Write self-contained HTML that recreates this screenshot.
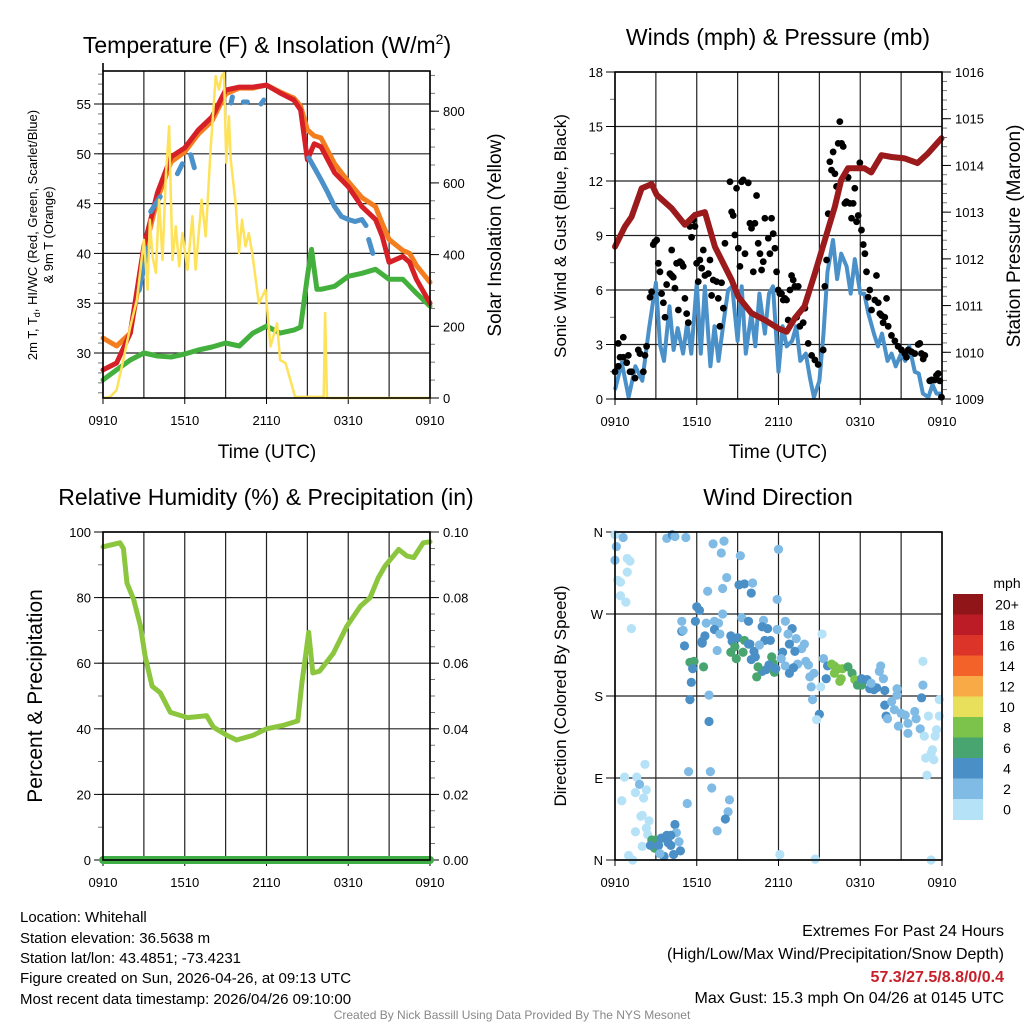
<!DOCTYPE html>
<html><head><meta charset="utf-8">
<style>
html,body{margin:0;padding:0;background:#fff;}
svg{display:block;font-family:"Liberation Sans",Arial,sans-serif;}
</style></head>
<body>
<svg id="fig" width="1024" height="1024" viewBox="0 0 1024 1024" xmlns="http://www.w3.org/2000/svg">
<rect width="1024" height="1024" fill="#fff"/>
<g id="p1"></g>
<g id="p2"></g>
<g id="p3"></g>
<g id="p4"></g>

<text x="267" y="53" font-size="23" text-anchor="middle">Temperature (F) &amp; Insolation (W/m<tspan dy="-9" font-size="14">2</tspan><tspan dy="9">)</tspan></text>
<text x="778" y="45" font-size="23" text-anchor="middle">Winds (mph) &amp; Pressure (mb)</text>
<text x="266" y="505" font-size="23" text-anchor="middle">Relative Humidity (%) &amp; Precipitation (in)</text>
<text x="778" y="505" font-size="23" text-anchor="middle">Wind Direction</text>

<text transform="translate(37,235) rotate(-90)" font-size="13" text-anchor="middle">2m T, T<tspan dy="3" font-size="9">d</tspan><tspan dy="-3">, HI/WC (Red, Green, Scarlet/Blue)</tspan></text>
<text transform="translate(53,235) rotate(-90)" font-size="13" text-anchor="middle">&amp; 9m T (Orange)</text>
<text transform="translate(501,235) rotate(-90)" font-size="19" text-anchor="middle">Solar Insolation (Yellow)</text>
<text transform="translate(566,236) rotate(-90)" font-size="17" text-anchor="middle">Sonic Wind &amp; Gust (Blue, Black)</text>
<text transform="translate(1020,236) rotate(-90)" font-size="19" text-anchor="middle">Station Pressure (Maroon)</text>
<text transform="translate(42,696) rotate(-90)" font-size="21" text-anchor="middle">Percent &amp; Precipitation</text>
<text transform="translate(566,696) rotate(-90)" font-size="17" text-anchor="middle">Direction (Colored By Speed)</text>
<text x="267" y="458" font-size="19" text-anchor="middle">Time (UTC)</text>
<text x="778" y="458" font-size="19" text-anchor="middle">Time (UTC)</text>

<g font-size="15">
<text x="20" y="922">Location: Whitehall</text>
<text x="20" y="943">Station elevation: 36.5638 m</text>
<text x="20" y="963">Station lat/lon: 43.4851; -73.4231</text>
<text x="20" y="983">Figure created on Sun, 2026-04-26, at 09:13 UTC</text>
<text x="20" y="1004">Most recent data timestamp: 2026/04/26 09:10:00</text>
</g>
<g font-size="15" text-anchor="end">
<text x="1004" y="936" font-size="16">Extremes For Past 24 Hours</text>
<text x="1004" y="959" font-size="16">(High/Low/Max Wind/Precipitation/Snow Depth)</text>
<text x="1004" y="982" font-size="16" font-weight="bold" fill="#c8202a">57.3/27.5/8.8/0/0.4</text>
<text x="1004" y="1003" font-size="16">Max Gust: 15.3 mph On 04/26 at 0145 UTC</text>
</g>
<text x="512" y="1019" font-size="12" fill="#888" text-anchor="middle">Created By Nick Bassill Using Data Provided By The NYS Mesonet</text>
</svg>
<script>
// ---------- data ----------
const timeTickLabels = ["0910","1510","2110","0310","0910"];
const tempTicks = [30,35,40,45,50,55];
const solarTicks = [0,200,400,600,800];
const windTicks = [0,3,6,9,12,15,18];
const pressTicks = [1009,1010,1011,1012,1013,1014,1015,1016];
const rhTicks = [0,20,40,60,80,100];
const precipTickLabels = ["0.00","0.02","0.04","0.06","0.08","0.10"];
const dirTickLabels = ["N","E","S","W","N"];
const speedBins = ["0","2","4","6","8","10","12","14","16","18","20+"];
const speedColors = ["#b5e2f7","#7fbbe5","#4a8fc6","#48a56f","#7bc34a","#e8e05a","#f7aa45","#f26229","#dd342a","#bb1c25","#8f1518"];

const tempHours = [0,1,2,3,4,5,6,7,8,9,10,11,12,13,14,14.5,15,15.5,16,17,18,19,20,20.5,21,22,22.5,23,24];
const redTemp = [28.3,29.0,32.0,40.7,46.1,49.7,50.6,52.4,53.7,56.4,56.7,56.7,56.9,56.1,55.4,54.4,49.4,51.0,50.7,48.1,46.7,44.7,43.4,41.7,39.1,39.7,39.1,37.4,35.0];
const orangeTemp = [31.5,30.7,32.0,40.0,45.5,49.2,50.2,52.0,53.3,56.0,56.6,56.6,56.9,56.2,55.6,54.8,52.4,51.8,51.6,49.0,47.2,45.6,44.7,43.0,41.4,40.3,40.0,38.8,37.1];
const blueHours = [2.66,3.3,null,3.5,4.2,null,5.46,5.83,null,6.44,6.7,null,9.4,9.5,null,10.3,10.6,null,11.6,11.8,null,15.1,15.6,16,16.5,17,17.5,18,18.5,19,19.3,null,19.5,19.8];
const blueTemp = [36.3,40.6,null,44.2,45.7,null,48.0,49.0,null,49.9,48.6,null,55.1,55.7,null,55.2,55.2,null,55.0,55.4,null,49.6,48.4,47.4,46.1,44.7,43.7,43.4,43.2,43.4,42.8,null,41.4,40.0];
const greenHours = [0,1,2,3,4,5,6,7,8,9,10,11,12,13,14,14.5,15,15.3,15.7,16,17,18,19,20,21,22,23,24];
const dewpoint = [27.3,28.3,29.3,30.0,29.7,29.6,29.9,30.3,30.6,31.0,30.7,32.0,32.7,32.0,32.3,32.6,37.7,40.4,36.4,36.4,36.7,37.7,38.0,38.4,37.4,37.4,36.0,34.7];
const solarHours = [0,0.49,1.0,1.49,2.0,2.49,3.0,3.27,3.44,3.63,3.88,4.12,4.37,4.61,4.85,5.1,5.34,5.59,5.83,6.2,6.56,6.8,7.24,7.54,7.9,8.27,8.51,8.71,8.88,9.05,9.24,9.37,9.73,9.98,10.2,10.46,10.7,10.95,11.44,11.93,12.29,12.78,13.0,13.4,14.1,16.2,16.3,16.44,24];
const solarValues = [0,2,22,106,199,274,441,302,497,395,349,553,385,618,758,385,479,367,460,358,507,358,553,451,693,898,860,898,907,656,786,665,544,404,497,423,460,404,264,302,144,208,106,97,3,3,237,0,0];

const pressHours = [0,0.73,1.22,1.96,2.69,3.06,4.16,5.13,5.87,6.6,7.33,8.56,9.05,10.0,11.0,12.0,12.6,13.2,13.9,14.67,15.4,16.14,16.6,17.1,18.3,18.8,19.56,20.3,21.27,22.2,22.98,23.96];
const pressure = [1012.26,1012.69,1012.9,1013.51,1013.6,1013.37,1013.08,1012.73,1012.94,1013.0,1012.26,1011.55,1011.19,1010.84,1010.69,1010.51,1010.44,1010.73,1010.98,1011.69,1012.4,1013.12,1013.69,1013.94,1013.94,1013.85,1014.22,1014.18,1014.15,1014.05,1014.26,1014.58];
const windHours = [0,0.5,1,1.5,2,2.5,3,3.3,3.6,4,4.3,4.6,5,5.3,5.6,6,6.3,6.6,7,7.3,7.6,8,8.3,8.6,9,9.3,9.6,10,10.3,10.6,11,11.3,11.6,12,12.3,12.6,13,13.3,13.6,14,14.3,14.6,15,15.3,15.6,16,16.3,16.6,17,17.3,17.6,18,18.3,18.6,19,19.3,19.6,20,20.3,20.6,21,21.3,21.6,22,22.3,22.6,23,23.3,23.6,24];
const windSpeed = [0.5,2.0,0.1,1.8,1.0,3.9,6.4,3.0,2.1,5.1,2.7,3.9,2.5,4.2,2.5,6.4,2.5,6.2,1.8,4.0,2.1,4.4,6.0,6.2,3.2,6.2,2.5,4.7,2.9,5.8,3.6,5.8,6.2,1.5,4.0,2.9,3.2,4.0,2.1,2.5,1.2,0.1,1.0,3.6,7.0,8.75,6.6,8.0,7.3,5.8,7.7,5.8,5.8,4.7,3.6,2.9,3.6,2.1,2.5,1.8,2.5,2.1,2.9,1.5,1.4,0.3,0.1,0.8,0.3,0.3];
const gustPoints = [[0,1.5],[0.24,1.8],[0.24,3.06],[0.61,3.4],[0.37,2.3],[0.61,2.3],[0.98,2.4],[0.86,2.0],[1.1,1.5],[1.22,1.5],[1.47,1.15],[1.71,2.7],[1.83,2.5],[2.2,2.4],[2.08,1.5],[2.32,2.9],[2.57,5.6],[2.69,5.9],[2.81,8.5],[2.93,8.66],[3.06,8.75],[3.18,7.47],[3.3,7.0],[3.42,5.8],[3.55,5.3],[3.67,4.5],[3.79,6.3],[4.03,6.9],[4.16,8.2],[4.16,6.8],[4.28,6.7],[4.4,6.1],[4.52,7.47],[4.65,4.9],[4.77,7.56],[4.89,7.47],[5.01,7.3],[5.13,5.54],[5.26,4.7],[5.38,4.2],[5.5,9.5],[5.62,8.9],[5.75,9.85],[5.87,9.5],[5.99,7.47],[6.11,6.46],[6.23,7.65],[6.36,7.2],[6.48,8.2],[6.6,6.8],[6.85,6.9],[6.97,7.65],[7.09,5.7],[7.21,6.55],[7.46,6.46],[7.58,5.54],[7.7,4.0],[7.82,6.4],[7.95,5.0],[8.07,8.57],[8.44,11.96],[8.56,10.3],[8.68,10.1],[8.8,9.03],[8.92,11.6],[9.05,8.3],[9.17,7.3],[9.29,11.96],[9.41,12.06],[9.54,8.0],[9.78,11.9],[9.9,9.67],[10.02,9.4],[10.15,7.0],[10.27,9.67],[10.39,11.2],[10.51,8.57],[10.64,8.0],[10.76,7.1],[10.88,7.56],[11.0,9.95],[11.25,8.85],[11.37,8.0],[11.49,9.95],[11.61,9.1],[11.74,8.3],[11.86,7.0],[11.98,6.0],[12.1,5.8],[12.22,5.8],[12.35,5.45],[12.47,5.54],[12.59,5.45],[12.71,4.35],[12.84,6.0],[12.96,6.8],[13.08,6.55],[13.2,6.2],[13.33,4.5],[13.45,6.2],[13.57,4.0],[13.81,4.2],[13.94,5.0],[14.18,3.06],[14.43,2.4],[14.67,2.15],[14.91,1.9],[15.28,2.7],[15.4,6.2],[15.53,7.65],[15.65,10.2],[15.77,13.06],[15.89,12.6],[16.01,13.6],[16.14,12.4],[16.26,11.7],[16.38,14.07],[16.5,15.27],[16.63,14.07],[16.75,13.9],[16.87,10.77],[16.99,10.86],[17.11,12.2],[17.24,10.77],[17.36,9.95],[17.48,10.77],[17.6,11.6],[17.73,9.76],[17.85,10.1],[17.97,13.0],[18.09,9.3],[18.22,8.5],[18.34,8.0],[18.46,7.0],[18.58,5.6],[18.7,6.0],[18.83,4.9],[19.07,5.45],[19.19,6.8],[19.32,5.3],[19.44,4.7],[19.56,4.6],[19.68,4.2],[19.8,4.5],[19.93,5.54],[20.05,4.0],[20.29,3.5],[20.54,3.2],[20.78,2.9],[21.03,2.7],[21.27,2.5],[21.39,2.3],[21.52,2.7],[21.76,2.6],[22.0,2.5],[22.25,3.0],[22.37,3.06],[22.49,2.5],[22.62,2.2],[22.74,2.4],[23.1,1.0],[23.23,1.05],[23.47,1.05],[23.59,1.3],[23.72,1.4],[23.84,1.0],[23.96,0.1]];

const rhHours = [0,1.25,1.5,1.76,2.25,2.75,3.1,3.6,4.2,4.95,6.2,7.6,8.1,9.1,9.8,11,12,13.2,14.3,14.6,15.1,15.4,15.9,16.9,17.9,18.9,19.6,20.2,20.7,21.7,22.3,22.8,23.5,24];
const rhValues = [95.5,96.7,95,84.4,79.4,71.3,62,53,51,45,43.4,44,40.5,38,36.6,38,40,41,42.4,54,69.4,57,57.6,63,71.3,77.4,80,86,89.6,94.7,92.7,92.2,96.7,97];
const precipHours = [0,24];
const precipValues = [0,0];

// [hour, direction degrees, speed bin index]
const dirPoints = [[0,357,0],[0.6,354,1],[0.1,344,1],[0,329,1],[0.9,331,0],[1.1,328,0],[0.9,316,0],[0.2,307,0],[0.4,305,0],[0.4,290,0],[0.8,283,0],[1.2,254,0],[3.8,353,1],[4.2,357,2],[4.4,355,1],[5.2,354,1],[7.2,347,1],[8.0,350,1],[7.8,337,1],[9.2,334,1],[12.0,341,1],[8.2,310,1],[7.9,298,1],[6.8,295,1],[9.1,302,2],[9.5,303,2],[10.1,304,1],[10.0,293,2],[11.9,286,1],[6.0,278,2],[6.2,274,2],[7.9,270,1],[9.3,266,1],[5.9,262,2],[6.7,260,1],[7.3,262,1],[7.6,260,1],[4.9,262,1],[9.8,262,2],[10.9,263,1],[12.5,262,1],[4.9,251,2],[5.0,252,1],[6.6,246,2],[7.3,253,2],[7.7,248,1],[10.8,256,2],[11.2,254,2],[11.9,253,1],[13.0,254,2],[12.7,248,1],[15.2,248,0],[6.4,240,2],[6.4,238,2],[5.1,235,2],[8.5,246,2],[8.6,240,2],[9.0,244,2],[9.5,241,3],[8.8,234,3],[11.0,241,2],[11.4,241,2],[13.3,243,1],[13.9,237,1],[7.5,230,1],[8.5,228,3],[9.4,228,3],[9.8,237,2],[9.9,237,2],[10.2,229,2],[10.6,236,1],[12.8,237,2],[13.7,232,1],[12.3,228,2],[13.2,229,2],[5.5,217,3],[5.8,218,3],[6.5,212,3],[8.9,221,3],[10.0,220,2],[10.3,223,2],[11.5,223,3],[11.6,216,3],[11.3,214,2],[11.1,209,2],[10.8,207,2],[10.5,212,3],[10.4,201,3],[11.7,206,3],[12.2,221,1],[12.5,213,1],[13.4,215,1],[14.0,218,1],[14.2,214,1],[15.3,221,1],[22.6,218,0],[5.7,210,2],[11.8,210,2],[12.8,205,2],[13.1,211,2],[14.6,205,1],[14.3,201,1],[15.1,190,0],[14.4,190,1],[15.6,213,2],[15.9,215,4],[16.1,213,4],[16.4,210,4],[16.7,210,4],[16.5,196,4],[17.1,212,3],[17.4,205,3],[17.6,198,4],[17.8,192,3],[15.5,199,2],[16.6,199,4],[16.1,205,4],[18.1,192,3],[18.1,199,2],[18.5,198,2],[18.7,188,2],[19.0,187,2],[19.2,189,2],[18.8,194,1],[19.8,186,2],[19.5,213,1],[19.4,207,1],[19.7,199,1],[20.7,188,1],[22.6,192,1],[20.7,181,1],[5.6,195,2],[5.5,176,2],[6.9,181,1],[6.9,152,2],[14.5,176,1],[15.0,160,2],[14.8,154,0],[19.8,170,2],[20.3,174,1],[20.5,165,1],[19.9,158,2],[20.0,155,1],[21.0,161,1],[21.3,159,1],[22.0,163,1],[22.1,155,1],[21.5,150,1],[20.8,147,1],[22.4,144,1],[21.5,139,1],[22.5,178,2],[23.8,176,0],[23.0,158,0],[23.8,158,0],[23.6,143,0],[23.5,136,0],[22.7,136,0],[23.3,121,0],[23.2,117,0],[22.8,112,0],[23.4,110,0],[22.9,93,0],[2.2,105,0],[0.7,91,0],[1.6,91,0],[1.8,83,1],[2.3,77,0],[1.5,74,0],[2.1,68,0],[0.5,65,0],[5.4,97,1],[7.0,97,1],[7.1,79,1],[8.4,66,1],[5.3,62,1],[8.3,53,1],[8.1,45,2],[7.5,32,1],[1.9,48,0],[2.0,49,0],[2.5,43,0],[2.3,35,0],[1.5,31,0],[2.4,28,0],[4.4,39,2],[4.5,30,1],[2.0,15,0],[2.7,22,3],[3.0,22,3],[2.9,13,3],[3.2,16,2],[2.6,16,2],[3.4,24,2],[3.8,27,2],[4.1,27,2],[3.9,19,2],[4.1,16,2],[4.7,20,1],[4.8,10,2],[4.3,6,2],[3.6,4,2],[3.3,7,1],[1.0,5,0],[1.3,0,0],[12.1,6,0],[14.7,1,0],[23.2,0,0]];

// ---------- drawing ----------
const NS = "http://www.w3.org/2000/svg";
function mk(parent, tag, attrs){ const e=document.createElementNS(NS,tag); for(const k in attrs) e.setAttribute(k,attrs[k]); parent.appendChild(e); return e; }
function lin(d0,d1,r0,r1){ return v => r0 + (v-d0)*(r1-r0)/(d1-d0); }
function pathFrom(xs, ys, sx, sy){
  let d="", pen=false;
  for(let i=0;i<xs.length;i++){
    if(xs[i]===null||ys[i]===null){pen=false;continue;}
    d += (pen?"L":"M") + sx(xs[i]).toFixed(1)+","+sy(ys[i]).toFixed(1);
    pen=true;
  }
  return d;
}
function frame(g, x0,x1,y0,y1, sx){
  for(let h=0;h<=24;h+=3){
    const l=mk(g,"line",{x1:sx(h),x2:sx(h),y1:y0,y2:y1,stroke:"#222","stroke-width":1.2});
    
    
  }
  const lab = mk(g,"g",{});
  
  
  timeTickLabels.forEach((t,i)=>{
    const tx=mk(lab,"text",{x:sx(i*6),y:y1+27,"font-size":13,"text-anchor":"middle"}); tx.textContent=t;
    mk(g,"line",{x1:sx(i*6),x2:sx(i*6),y1:y1,y2:y1+6,stroke:"#000","stroke-width":1});
  });
}
function box(g,x0,x1,y0,y1){
  const r=mk(g,"rect",{x:x0,y:y0,width:x1-x0,height:y1-y0,fill:"none",stroke:"#000","stroke-width":1.6});
  
  
}
function hgrid(g,ys,x0,x1){ ys.forEach(y=>mk(g,"line",{x1:x0,x2:x1,y1:y,y2:y,stroke:"#222","stroke-width":1.2})); }
function leftTicks(g,vals,labels,sy,x0,minorVals){
  (minorVals||[]).forEach(v=>mk(g,"line",{x1:x0-5,x2:x0,y1:sy(v),y2:sy(v),stroke:"#555","stroke-width":0.8}));
  vals.forEach((v,i)=>{ mk(g,"line",{x1:x0-9,x2:x0,y1:sy(v),y2:sy(v),stroke:"#000","stroke-width":1});
    const t=mk(g,"text",{x:x0-12,y:sy(v)+5,"font-size":13,"text-anchor":"end"}); t.textContent=labels[i]; });
}
function rightTicks(g,vals,labels,sy,x1,minorVals){
  (minorVals||[]).forEach(v=>mk(g,"line",{x1:x1,x2:x1+5,y1:sy(v),y2:sy(v),stroke:"#555","stroke-width":0.8}));
  vals.forEach((v,i)=>{ mk(g,"line",{x1:x1,x2:x1+9,y1:sy(v),y2:sy(v),stroke:"#000","stroke-width":1});
    const t=mk(g,"text",{x:x1+13,y:sy(v)+5,"font-size":13,"text-anchor":"start"}); t.textContent=labels[i]; });
}
function range(a,b,s){ const r=[]; for(let v=a; v<=b+1e-9; v+=s) r.push(+v.toFixed(4)); return r; }

// Panel 1
(function(){
  const g=document.getElementById("p1");
  const x0=103,x1=430,y0=71,y1=398;
  const sx=lin(0,24,x0,x1), sy=lin(55,30,104,353), ss=lin(0,800,398,111.2);
  hgrid(g,tempTicks.map(sy),x0,x1);
  frame(g,x0,x1,y0,y1,sx);
  leftTicks(g,tempTicks,tempTicks.map(String),sy,x0,range(26,58,1));
  rightTicks(g,solarTicks,solarTicks.map(String),ss,x1,range(0,900,50));
  let p;
  p=mk(g,"path",{d:pathFrom(greenHours,dewpoint,sx,sy),fill:"none",stroke:"#43b03d","stroke-width":5,"stroke-linejoin":"round","stroke-linecap":"round"});
   
  p=mk(g,"path",{d:pathFrom(tempHours,orangeTemp,sx,sy),fill:"none",stroke:"#f47d20","stroke-width":5,"stroke-linejoin":"round","stroke-linecap":"round"});
   
  p=mk(g,"path",{d:pathFrom(tempHours,redTemp,sx,sy),fill:"none",stroke:"#d62027","stroke-width":5,"stroke-linejoin":"round","stroke-linecap":"round"});
   
  p=mk(g,"path",{d:pathFrom(blueHours,blueTemp,sx,sy),fill:"none",stroke:"#4a90c9","stroke-width":5,"stroke-linejoin":"round","stroke-linecap":"round"});
   
  p=mk(g,"path",{d:pathFrom(solarHours,solarValues,sx,ss),fill:"none",stroke:"#fde25a","stroke-width":2.5,"stroke-linejoin":"round"});
   
  box(g,x0,x1,y0,y1);
  mk(g,"line",{x1:x0,x2:x0,y1:63,y2:y0,stroke:"#000","stroke-width":1.6});
})();

// Panel 2
(function(){
  const g=document.getElementById("p2");
  const x0=615,x1=942,y0=72,y1=399;
  const sx=lin(0,24,x0,x1), sy=lin(0,18,399,72), sp=lin(1009,1016,399,72);
  hgrid(g,windTicks.map(sy),x0,x1);
  frame(g,x0,x1,y0,y1,sx);
  leftTicks(g,windTicks,windTicks.map(String),sy,x0,range(0,18,1.5));
  rightTicks(g,pressTicks,pressTicks.map(String),sp,x1,range(1009,1016,0.2));
  let p=mk(g,"path",{d:pathFrom(windHours,windSpeed,sx,sy),fill:"none",stroke:"#4a90c9","stroke-width":4,"stroke-linejoin":"round"});
   
  const gg=mk(g,"g",{});
   
  gustPoints.forEach(q=>{ mk(gg,"circle",{cx:sx(q[0]),cy:sy(q[1]),r:3.4,fill:"#000"}); });
  p=mk(g,"path",{d:pathFrom(pressHours,pressure,sx,sp),fill:"none",stroke:"#9b1a1c","stroke-width":6,"stroke-linejoin":"round","stroke-linecap":"round"});
   
  box(g,x0,x1,y0,y1);
})();

// Panel 3
(function(){
  const g=document.getElementById("p3");
  const x0=103,x1=430,y0=532,y1=860;
  const sx=lin(0,24,x0,x1), sy=lin(0,100,860,532), spr=lin(0,0.1,860,532);
  hgrid(g,rhTicks.map(sy),x0,x1);
  frame(g,x0,x1,y0,y1,sx);
  leftTicks(g,rhTicks,rhTicks.map(String),sy,x0,range(0,100,10));
  rightTicks(g,rhTicks.map(v=>v/1000),precipTickLabels,spr,x1,range(0,0.1,0.005));
  let p=mk(g,"path",{d:pathFrom(rhHours,rhValues,sx,sy),fill:"none",stroke:"#8cc63f","stroke-width":5,"stroke-linejoin":"round","stroke-linecap":"round"});
   
  p=mk(g,"path",{d:pathFrom(precipHours,precipValues,sx,spr),fill:"none",stroke:"#3fae47","stroke-width":8,"stroke-linecap":"round"});
   
  box(g,x0,x1,y0,y1);
})();

// Panel 4
(function(){
  const g=document.getElementById("p4");
  const x0=615,x1=942,y0=532,y1=860;
  const sx=lin(0,24,x0,x1), sy=lin(0,360,860,532);
  const dirVals=[0,90,180,270,360];
  hgrid(g,dirVals.map(sy),x0,x1);
  frame(g,x0,x1,y0,y1,sx);
  leftTicks(g,dirVals,dirTickLabels,sy,x0,[]);
  const gg=mk(g,"g",{});
   
  dirPoints.forEach(q=>{ mk(gg,"circle",{cx:sx(q[0]),cy:sy(q[1]),r:4.6,fill:speedColors[q[2]]}); });
  box(g,x0,x1,y0,y1);
  const cb=mk(g,"g",{});
   
  const h=20.5, top=594;
  const mt=mk(cb,"text",{x:1007,y:588,"font-size":14,"text-anchor":"middle"}); mt.textContent="mph";
  for(let i=0;i<speedBins.length;i++){
    const idx=speedBins.length-1-i;
    mk(cb,"rect",{x:953,y:top+i*h,width:30,height:h+0.5,fill:speedColors[idx]});
    const t=mk(cb,"text",{x:1007,y:top+i*h+h/2+5,"font-size":14,"text-anchor":"middle"}); t.textContent=speedBins[idx];
  }
})();
</script>
</body></html>
